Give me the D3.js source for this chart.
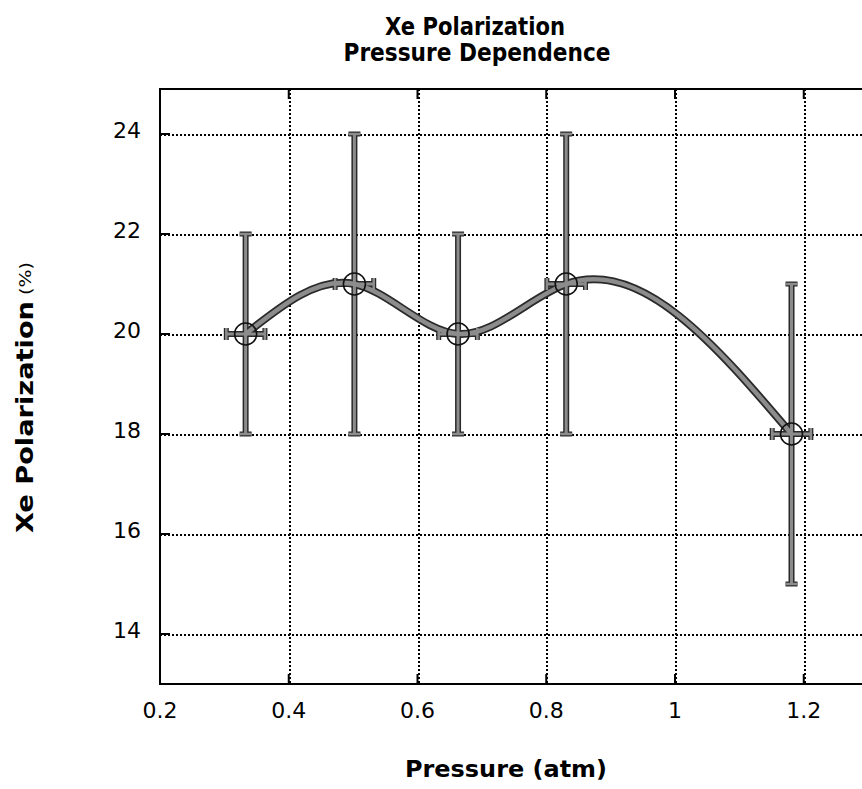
<!DOCTYPE html>
<html><head><meta charset="utf-8">
<script src="https://cdn.jsdelivr.net/npm/d3@7"></script>
<style>body{margin:0;background:#fff}svg{display:block}</style>
</head><body>
<svg id="c" width="862" height="789"></svg>
<script>
const pressure = [0.333, 0.502, 0.663, 0.831, 1.181];
const polarization = [20, 21, 20, 21, 18];
const yErrLow = [18, 18, 18, 18, 15];
const yErrHigh = [22, 24, 22, 24, 21];
const xErr = [0.03, 0.03, 0.03, 0.03, 0.03];
const xTicks = [0.2, 0.4, 0.6, 0.8, 1, 1.2];
const xTickLabels = ["0.2", "0.4", "0.6", "0.8", "1", "1.2"];
const yTicks = [14, 16, 18, 20, 22, 24];
const xDomain = [0.2, 1.3];
const yDomain = [13, 24.9];

const svg = d3.select("#c");
const L = 160, B = 684, T = 89;
const x = d3.scaleLinear().domain(xDomain).range([L, L + 643.75 * 1.1]);
const y = d3.scaleLinear().domain(yDomain).range([B, T]);
const R = x(xDomain[1]);
const font = "'DejaVu Sans', Verdana, sans-serif";

// natural cubic spline y(x) curve factory (x must increase)
function curveSplineX(context) {
  let xs, ys;
  return {
    areaStart() {}, areaEnd() {},
    lineStart() { xs = []; ys = []; },
    point(px, py) { xs.push(+px); ys.push(+py); },
    lineEnd() {
      const n = xs.length - 1;
      if (n < 1) return;
      const h = d3.range(n).map(i => xs[i + 1] - xs[i]);
      const M = new Array(n + 1).fill(0);
      if (n > 1) {
        const a = [], b = [], c = [], r = [];
        for (let i = 1; i < n; i++) {
          a.push(h[i - 1]); b.push(2 * (h[i - 1] + h[i])); c.push(h[i]);
          r.push(6 * ((ys[i + 1] - ys[i]) / h[i] - (ys[i] - ys[i - 1]) / h[i - 1]));
        }
        const m = b.length;
        for (let i = 1; i < m; i++) {
          const w = a[i] / b[i - 1];
          b[i] -= w * c[i - 1]; r[i] -= w * r[i - 1];
        }
        const sol = new Array(m);
        sol[m - 1] = r[m - 1] / b[m - 1];
        for (let i = m - 2; i >= 0; i--) sol[i] = (r[i] - c[i] * sol[i + 1]) / b[i];
        for (let i = 1; i < n; i++) M[i] = sol[i - 1];
      }
      const d = new Array(n + 1);
      for (let i = 0; i < n; i++) d[i] = (ys[i + 1] - ys[i]) / h[i] - h[i] * (2 * M[i] + M[i + 1]) / 6;
      d[n] = (ys[n] - ys[n - 1]) / h[n - 1] + h[n - 1] * (M[n - 1] + 2 * M[n]) / 6;
      context.moveTo(xs[0], ys[0]);
      for (let i = 0; i < n; i++) {
        const k = h[i] / 3;
        context.bezierCurveTo(xs[i] + k, ys[i] + d[i] * k, xs[i + 1] - k, ys[i + 1] - d[i + 1] * k, xs[i + 1], ys[i + 1]);
      }
    }
  };
}

// grid
const g = svg.append("g");
g.selectAll(".gx").data(xTicks.slice(1)).enter().append("line")
  .attr("x1", d => Math.round(x(d)) + 0.5).attr("x2", d => Math.round(x(d)) + 0.5).attr("y1", T).attr("y2", B)
  .attr("stroke", "#000").attr("stroke-width", 2).attr("stroke-dasharray", "2,2").attr("shape-rendering", "crispEdges");
g.selectAll(".gy").data(yTicks).enter().append("line")
  .attr("x1", L).attr("x2", R).attr("y1", d => Math.round(y(d)) + 0.5).attr("y2", d => Math.round(y(d)) + 0.5)
  .attr("stroke", "#000").attr("stroke-width", 2).attr("stroke-dasharray", "2,2").attr("shape-rendering", "crispEdges");

// frame
svg.append("rect").attr("x", L).attr("y", T).attr("width", R - L).attr("height", B - T)
  .attr("fill", "none").attr("stroke", "#000").attr("stroke-width", 2);

// inward ticks
const tl = 10;
svg.selectAll(".tb").data(xTicks).enter().append("line")
  .attr("x1", d => x(d)).attr("x2", d => x(d)).attr("y1", B).attr("y2", B - tl)
  .attr("stroke", "#000").attr("stroke-width", 2);
svg.selectAll(".tt").data(xTicks).enter().append("line")
  .attr("x1", d => x(d)).attr("x2", d => x(d)).attr("y1", T).attr("y2", T + tl)
  .attr("stroke", "#000").attr("stroke-width", 2);
svg.selectAll(".tlft").data(yTicks).enter().append("line")
  .attr("x1", L).attr("x2", L + tl).attr("y1", d => y(d)).attr("y2", d => y(d))
  .attr("stroke", "#000").attr("stroke-width", 2);

// tick labels
svg.selectAll(".xl").data(xTicks).enter().append("text")
  .attr("x", d => x(d)).attr("y", 718).attr("text-anchor", "middle")
  .attr("font-family", font).attr("font-size", 22)
  .text((d, i) => xTickLabels[i]);
svg.selectAll(".yl").data(yTicks).enter().append("text")
  .attr("x", 141).attr("y", d => y(d) + 4).attr("text-anchor", "end")
  .attr("font-family", font).attr("font-size", 22)
  .text(d => d);

// data
const pts = pressure.map((p, i) => ({p, v: polarization[i], lo: yErrLow[i], hi: yErrHigh[i], xe: xErr[i]}));
const line = d3.line().x(d => x(d.p)).y(d => y(d.v)).curve(curveSplineX);

const data = svg.append("g");
const drawBars = (stroke, wv, wc) => {
  data.selectAll(null).data(pts).enter().append("line")
    .attr("x1", d => x(d.p)).attr("x2", d => x(d.p)).attr("y1", d => y(d.lo)).attr("y2", d => y(d.hi))
    .attr("stroke", stroke).attr("stroke-width", wv);
  data.selectAll(null).data(pts).enter().append("line")
    .attr("x1", d => x(d.p - d.xe)).attr("x2", d => x(d.p + d.xe)).attr("y1", d => y(d.v)).attr("y2", d => y(d.v))
    .attr("stroke", stroke).attr("stroke-width", wv);
  ["lo", "hi"].forEach(k => {
    data.selectAll(null).data(pts).enter().append("line")
      .attr("x1", d => x(d.p) - 6).attr("x2", d => x(d.p) + 6).attr("y1", d => y(d[k])).attr("y2", d => y(d[k]))
      .attr("stroke", stroke).attr("stroke-width", wc);
  });
  [-1, 1].forEach(s => {
    data.selectAll(null).data(pts).enter().append("line")
      .attr("x1", d => x(d.p + s * d.xe)).attr("x2", d => x(d.p + s * d.xe)).attr("y1", d => y(d.v) - 6).attr("y2", d => y(d.v) + 6)
      .attr("stroke", stroke).attr("stroke-width", wc);
  });
};
drawBars("#2a2a2a", 6, 5);
data.append("path").datum(pts).attr("d", line).attr("fill", "none").attr("stroke", "#2a2a2a").attr("stroke-width", 8);
drawBars("#8c8c8c", 3, 2.5);
data.append("path").datum(pts).attr("d", line).attr("fill", "none").attr("stroke", "#8c8c8c").attr("stroke-width", 4.5);
data.selectAll(null).data(pts).enter().append("circle")
  .attr("cx", d => x(d.p)).attr("cy", d => y(d.v)).attr("r", 11)
  .attr("fill", "none").attr("stroke", "#111").attr("stroke-width", 1.6);

// titles
const bold = (t, xx, yy, size, len) => svg.append("text").attr("x", xx).attr("y", yy).attr("text-anchor", "middle")
  .attr("font-family", font).attr("font-weight", "bold").attr("font-size", size)
  .attr("textLength", len).attr("lengthAdjust", "spacingAndGlyphs").text(t);
bold("Xe Polarization", 475, 35, 24, 180);
bold("Pressure Dependence", 477, 61, 24, 267);
bold("Pressure (atm)", 506, 777, 23, 202);

const yl = svg.append("g").attr("transform", "translate(33,533) rotate(-90)");
yl.append("text").attr("x", 0).attr("y", 0).attr("text-anchor", "start")
  .attr("font-family", font).attr("font-weight", "bold").attr("font-size", 23)
  .attr("textLength", 232).attr("lengthAdjust", "spacingAndGlyphs").text("Xe Polarization");
yl.append("text").attr("x", 238).attr("y", -2).attr("text-anchor", "start")
  .attr("font-family", font).attr("font-size", 16)
  .attr("textLength", 33).attr("lengthAdjust", "spacingAndGlyphs").text("(%)");
</script>
</body></html>
